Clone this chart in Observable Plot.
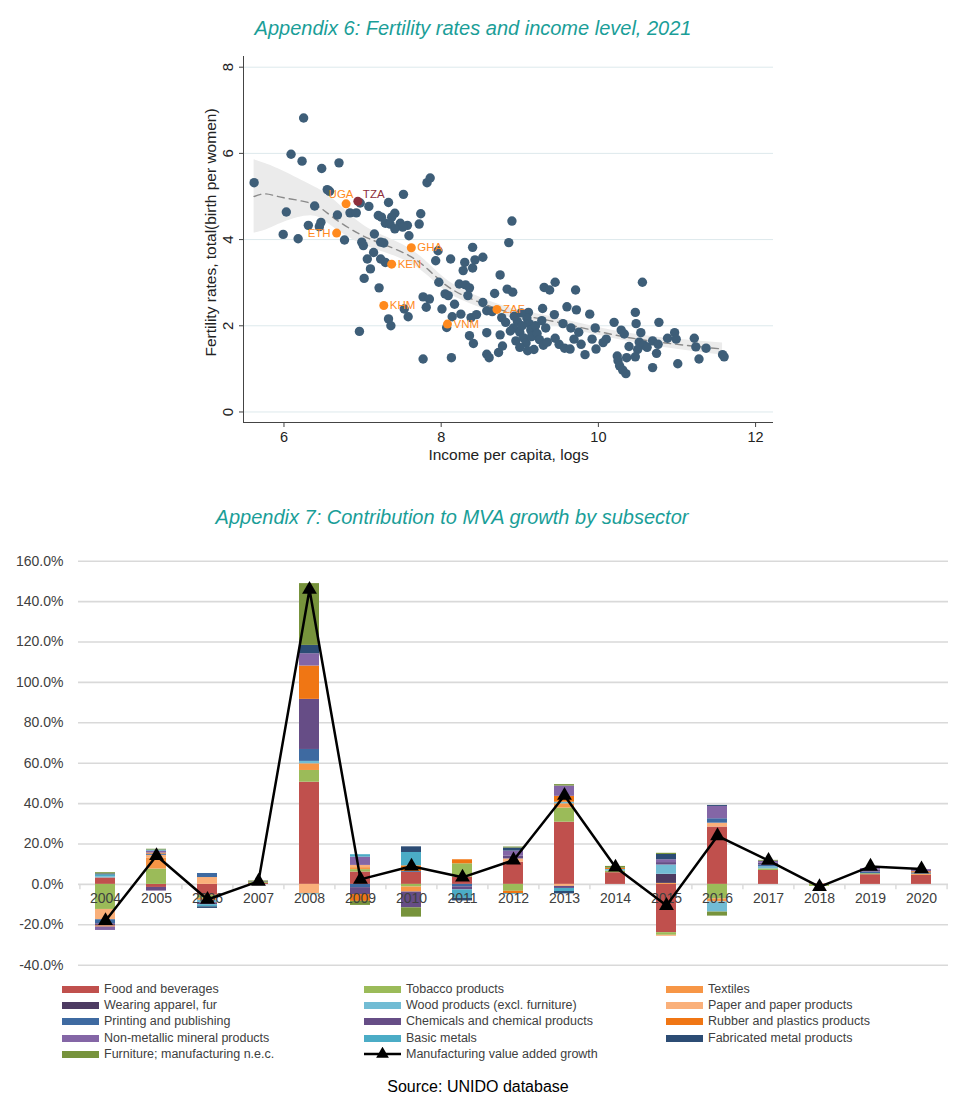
<!DOCTYPE html>
<html><head><meta charset="utf-8">
<script src="https://cdn.jsdelivr.net/npm/d3@7"></script>
<script src="https://cdn.jsdelivr.net/npm/@observablehq/plot@0.6"></script>
<style>
body{margin:0;background:#fff;}
#page{position:relative;width:961px;height:1098px;overflow:hidden;font-family:"Liberation Sans",Arial,sans-serif;background:#fff;}
.title{position:absolute;transform:translateX(-50%);white-space:nowrap;font-style:italic;color:#1a9e98;font-size:20px;line-height:22px;}
#scatter{position:absolute;left:0;top:40px;}
#bars{position:absolute;left:0;top:545px;}
.leg{position:absolute;font-size:12.5px;color:#404040;white-space:nowrap;line-height:14px;font-family:"Liberation Sans Narrow","Arial Narrow","Liberation Sans",sans-serif;}
.sw{position:absolute;width:37px;height:7px;}
#source{position:absolute;top:1078px;left:478px;transform:translateX(-50%);font-size:16px;line-height:18px;color:#000;white-space:nowrap;}
</style></head><body>
<div id="page">
  <div class="title" id="t1" style="left:473px;top:17px;">Appendix 6: Fertility rates and income level, 2021</div>
  <div id="scatter"></div>
  <div class="title" id="t2" style="left:452px;top:506px;">Appendix 7: Contribution to MVA growth by subsector</div>
  <div id="bars"></div>
  <div id="legend"></div>
  <div id="source">Source: UNIDO database</div>
</div>
<script>
// ---------------- Appendix 6 data ----------------
const incomeLog = [
5.62,6.25,6.09,6.23,6.48,6.70,6.03,5.99,6.18,6.31,6.39,6.47,6.45,6.55,6.58,6.68,6.77,6.97,6.84,6.92,
7.08,7.82,7.86,7.52,7.33,7.20,7.24,7.29,7.41,7.37,7.35,7.48,7.57,7.51,7.41,7.74,7.72,7.59,7.15,6.99,
7.01,7.27,7.23,7.14,7.06,7.23,7.29,7.10,7.96,7.93,8.12,8.40,8.30,8.43,8.53,8.28,8.40,7.02,7.21,6.96,
7.33,7.36,7.53,7.58,7.77,8.13,7.97,7.77,7.85,7.81,8.01,8.05,8.09,8.17,8.14,8.25,8.07,8.23,8.31,8.36,
8.34,8.38,8.45,8.36,8.41,8.58,8.53,8.58,8.65,8.68,8.75,8.90,8.86,8.58,8.61,8.73,8.78,8.84,8.91,8.77,
8.82,8.75,9.31,9.29,9.11,9.38,9.45,9.09,9.12,9.17,9.14,9.20,8.92,8.97,9.00,9.03,9.05,8.95,9.08,9.15,
9.22,9.25,9.30,9.35,9.28,9.00,9.18,8.88,8.93,9.02,9.10,9.33,9.60,9.72,9.71,9.89,9.44,9.45,9.50,9.57,
9.64,9.69,9.78,9.83,9.92,9.96,9.97,10.06,10.10,10.20,10.29,10.33,10.24,10.25,10.27,10.31,10.35,10.36,10.39,10.47,
10.48,10.56,10.54,10.52,10.58,10.50,10.62,10.47,10.69,10.76,10.74,10.69,10.77,10.88,10.97,10.99,11.01,11.22,11.24,11.28,
11.37,11.58,11.60,9.55,9.65,9.75];
const fertility = [
5.32,6.82,5.98,5.82,5.65,5.78,4.64,4.12,4.02,4.33,4.78,4.40,4.30,5.16,5.12,4.57,3.99,4.85,4.62,4.62,
4.77,5.32,5.43,5.05,4.86,4.56,4.52,4.38,4.61,4.52,4.36,4.38,4.33,4.29,4.25,4.60,4.36,4.09,4.13,3.94,
3.86,3.92,3.94,3.70,3.55,3.55,3.47,3.32,3.74,3.51,3.55,3.82,3.47,3.53,3.59,3.28,3.34,3.10,2.88,1.87,
2.16,2.00,2.39,2.21,1.23,1.26,3.01,2.67,2.62,2.43,2.39,2.74,2.70,2.50,2.21,2.27,1.96,2.97,2.95,2.88,
2.70,2.19,2.26,1.77,1.59,1.84,2.54,2.35,2.33,2.75,3.18,4.43,3.93,1.34,1.26,1.38,1.53,2.85,2.78,2.19,
2.08,1.79,2.89,2.40,2.31,2.83,3.01,2.18,2.05,1.95,1.90,2.00,1.95,2.10,1.85,2.00,1.72,1.65,1.60,1.75,
1.82,1.68,1.55,1.62,2.12,1.50,1.45,1.88,2.22,2.30,1.42,1.95,2.44,2.37,2.83,2.27,2.26,1.71,1.57,1.48,
1.46,1.69,1.57,1.33,1.69,1.95,1.46,1.61,1.69,2.08,1.90,1.81,1.30,1.19,1.07,0.97,0.89,1.26,1.52,2.31,
2.05,3.01,1.84,1.62,1.55,1.45,1.50,1.28,1.65,1.57,1.36,1.03,2.08,1.71,1.84,1.69,1.12,1.71,1.51,1.23,
1.48,1.33,1.28,2.05,1.95,1.85];
const hlCode = ["UGA","TZA","ETH","GHA","KEN","KHM","VNM","ZAF"];
const hlIncome = [6.79,6.94,6.67,7.62,7.37,7.27,8.08,8.71];
const hlFertility = [4.83,4.89,4.15,3.81,3.43,2.47,2.04,2.38];
const lowessX = [5.62,5.77,6.00,6.36,6.62,6.96,7.25,7.59,7.85,8.10,8.44,8.87,9.38,9.97,10.65,11.58];
const lowessY = [5.00,5.06,4.97,4.83,4.52,4.13,3.90,3.63,3.28,2.89,2.58,2.31,2.12,1.88,1.65,1.46];
const lowessLo = [4.15,4.22,4.40,4.55,4.30,3.92,3.72,3.47,3.13,2.75,2.46,2.20,2.02,1.79,1.55,1.32];
const lowessHi = [5.85,5.76,5.58,5.25,4.95,4.40,4.10,3.80,3.43,3.03,2.70,2.42,2.22,1.97,1.76,1.60];
const scatterXTicks = [6,8,10,12];
const scatterYTicks = [0,2,4,6,8];

// ---------------- Appendix 7 data ----------------
const years = ["2004","2005","2006","2007","2008","2009","2010","2011","2012","2013","2014","2015","2016","2017","2018","2019","2020"];
const food        = [3.2,-1.5,-5.4,0.5,50.6,6.1,6.0,3.6,11.0,30.8,5.8,-23.9,28.4,6.9,0.3,4.8,4.5];
const tobacco     = [-12.4,7.6,-1.5,0.5,5.8,1.2,-1.3,6.6,-3.4,7.0,0.8,-1.3,-7.2,0.8,-1.0,0.5,0];
const textiles    = [0,5.5,-1.0,0,3.3,1.0,-2.5,0,0,2.1,0,0.5,-1.5,0,0,0,0.6];
const wearing     = [0,0,0,0,0,0,0,0,0,0,0,4.5,0,0,0,0,0];
const wood        = [0.6,0,-1.2,0,1.2,0,0,0,0,0.8,0.8,4.6,-5.0,1.0,0,0,0];
const paper       = [-5.1,1.3,3.4,0,-4.7,1.1,0,0,1.6,-1.0,0,-0.5,1.9,0,0,0,0];
const printing    = [-2.0,0.6,2.0,0,5.9,-1.6,0.4,-1.2,0,0,0,0,2.2,0.8,0,0.8,0.6];
const chemicals   = [-1.1,-1.8,-1.0,0.3,24.8,-3.4,-7.8,-1.5,1.5,-1.0,0,1.2,0,1.0,0,1.0,0];
const rubber      = [-0.5,0.5,0,0,16.5,-3.4,2.8,2.0,-1.2,2.9,0.6,0,0,0,0,0,0.6];
const nonmetallic = [-1.7,1.0,0,0,6.1,4.1,0,0,2.4,5.1,0,1.4,6.1,1.0,0,0.7,1.0];
const basicMetals = [0.9,0.5,-1.0,0,-0.4,1.2,6.6,-4.2,-0.4,-1.5,0,0,0,0,0,0,0];
const fabricated  = [0.5,0,-0.8,0,4.1,0,2.8,-1.3,1.5,-1.2,0,2.6,0.5,0,0,0,0];
const furniture   = [0.6,0.4,0,0.4,30.6,-2.0,-4.6,0,0.5,0.7,0.9,0.6,-2.0,0.4,0,0,0];
const mvaGrowth   = [-18.0,14.2,-7.5,1.5,146.0,2.5,9.0,3.5,12.0,44.0,8.5,-10.5,24.0,11.8,-1.2,8.9,7.6];
const sectors = ["Food and beverages","Tobacco products","Textiles","Wearing apparel, fur","Wood products (excl. furniture)","Paper and paper products","Printing and publishing","Chemicals and chemical products","Rubber and plastics products","Non-metallic mineral products","Basic metals","Fabricated metal products","Furniture; manufacturing n.e.c."];
const sectorColors = ["#c0504d","#9bbb59","#f79646","#4d3b62","#72bcd4","#fab07a","#3e6aa1","#664d86","#f07614","#8466a6","#4bacc6","#2c4c74","#77933c"];
const lineLabel = "Manufacturing value added growth";
const barYTicks = [-40,-20,0,20,40,60,80,100,120,140,160];

// ---------------- Chart 1 ----------------
const points = incomeLog.map((x,i)=>({x, y: fertility[i]}));
const hl = hlCode.map((c,i)=>({code:c, x: hlIncome[i], y: hlFertility[i]}));
const lowess = lowessX.map((x,i)=>({x, y: lowessY[i], lo: lowessLo[i], hi: lowessHi[i]}));
const xDom = [5.485, 12.228], yDom = [-0.244, 8.248];
const orange = "#ff8a1e", tzaColor = "#8e2f3c";
const scatter = Plot.plot({
  width: 961, height: 440, marginLeft: 243, marginRight: 188, marginTop: 16, marginBottom: 58,
  x: {domain: xDom}, y: {domain: yDom},
  style: {fontFamily: "'Liberation Sans', Arial, sans-serif", background: "transparent", overflow: "visible"},
  marks: [
    Plot.gridY(scatterYTicks, {stroke: "#dde9ec", strokeOpacity: 1, strokeWidth: 1}),
    Plot.areaY(lowess, {x: "x", y1: "lo", y2: "hi", fill: "#ebebeb", curve: "natural"}),
    Plot.line(lowess, {x: "x", y: "y", stroke: "#8a8a8a", strokeWidth: 1.4, strokeDasharray: "7,5", curve: "natural"}),
    Plot.dot(points, {x: "x", y: "y", r: 4.7, fill: "#3e5e78", stroke: "none"}),
    Plot.dot(hl.filter(d=>d.code!=="TZA"), {x: "x", y: "y", r: 4.5, fill: orange}),
    Plot.dot(hl.filter(d=>d.code==="TZA"), {x: "x", y: "y", r: 4.5, fill: tzaColor}),
    Plot.text(hl.filter(d=>!["ETH","UGA","TZA"].includes(d.code)), {x: "x", y: "y", text: "code", textAnchor: "start", dx: 6, fill: orange, fontSize: 11.5}),
    Plot.text(hl.filter(d=>d.code==="ETH"), {x: "x", y: "y", text: "code", textAnchor: "end", dx: -6, fill: orange, fontSize: 11.5}),
    Plot.text(hl.filter(d=>d.code==="UGA"), {x: "x", y: "y", text: "code", textAnchor: "middle", dx: -5, dy: -10, fill: orange, fontSize: 11.5}),
    Plot.text(hl.filter(d=>d.code==="TZA"), {x: "x", y: "y", text: "code", textAnchor: "start", dx: 5, dy: -7, fill: tzaColor, fontSize: 11.5}),
    Plot.ruleX([xDom[0]], {stroke: "#444", strokeWidth: 1}),
    Plot.ruleY([yDom[0]], {stroke: "#444", strokeWidth: 1}),
    Plot.axisX(scatterXTicks, {tickSize: 5, tickPadding: 4, fontSize: 14.5, label: null, stroke: "#444", fill: "#222"}),
    Plot.axisY(scatterYTicks, {tickSize: 4, tickFormat: () => "", label: null, stroke: "#444"}),
    Plot.text(scatterYTicks, {x: xDom[0], y: d => d, text: d => String(d), rotate: -90, dx: -15, fontSize: 15, fill: "#222", lineAnchor: "middle"}),
    Plot.text(["Fertility rates, total(birth per women)"], {frameAnchor: "left", textAnchor: "middle", text: d => d, rotate: -90, dx: -32, dy: -7, fontSize: 15.5, fill: "#222"}),
    Plot.text(["Income per capita, logs"], {frameAnchor: "bottom", textAnchor: "middle", text: d => d, dy: 37, fontSize: 15.5, fill: "#222"})
  ]
});
document.getElementById("scatter").appendChild(scatter);

// ---------------- Chart 2 ----------------
const seriesVals = [food,tobacco,textiles,wearing,wood,paper,printing,chemicals,rubber,nonmetallic,basicMetals,fabricated,furniture];
const barData = sectors.flatMap((s,si)=>years.map((yr,i)=>({year: yr, sector: s, value: seriesVals[si][i]})));
const mvaData = years.map((yr,i)=>({year: yr, value: mvaGrowth[i]}));
const bw = 961, bml = 78, bmr = 13;
const step = (bw - bml - bmr) / years.length;
const pct = d => d.toFixed(1) + "%";
const bars = Plot.plot({
  width: bw, height: 440, marginLeft: bml, marginRight: bmr, marginTop: 15.7, marginBottom: 20.3,
  x: {domain: years, paddingInner: 0.6, paddingOuter: 0.3, axis: null},
  y: {domain: [-40, 160], axis: null},
  color: {domain: sectors, range: sectorColors},
  style: {fontFamily: "'Liberation Sans', Arial, sans-serif", background: "transparent", overflow: "visible"},
  marks: [
    Plot.gridY(barYTicks, {stroke: "#d9d9d9", strokeOpacity: 1, strokeWidth: 1.6}),
    Plot.axisY(barYTicks, {tickSize: 0, tickPadding: 15, tickFormat: pct, fontSize: 14, fill: "#404040", label: null}),
    Plot.ruleX(years, {x: d => d, y1: 0, y2: -2.6, dx: -step/2, stroke: "#d9d9d9", strokeWidth: 1.4}),
    Plot.ruleX([years[years.length-1]], {x: d => d, y1: 0, y2: -2.6, dx: step/2, stroke: "#d9d9d9", strokeWidth: 1.4}),
    Plot.barY(barData, {x: "year", y: "value", fill: "sector"}),
    Plot.text(years, {x: d => d, y: 0, dy: 14, text: d => d, fontSize: 14, fill: "#404040"}),
    Plot.line(mvaData, {x: "year", y: "value", stroke: "#000", strokeWidth: 2.5}),
    Plot.dot(mvaData, {x: "year", y: "value", symbol: "triangle", r: 5.5, fill: "#000", stroke: "none"})
  ]
});
document.getElementById("bars").appendChild(bars);

// ---------------- Legend ----------------
const legend = document.getElementById("legend");
const colX = [62, 364, 666], rowY = [989, 1005, 1021, 1038, 1054];
const items = sectors.map((s,i)=>({label: s, color: sectorColors[i]})).concat([{label: lineLabel, line: true}]);
items.forEach((it,i)=>{
  const c = i % 3, r = Math.floor(i / 3);
  const x = colX[c], y = rowY[r];
  if (it.line) {
    const svg = d3.create("svg").attr("width", 40).attr("height", 14)
      .style("position","absolute").style("left",(x-1)+"px").style("top",(y-7)+"px");
    svg.append("line").attr("x1",1).attr("x2",38).attr("y1",7).attr("y2",7).attr("stroke","#000").attr("stroke-width",2.5);
    svg.append("path").attr("d", d3.symbol(d3.symbolTriangle, 70)()).attr("transform","translate(19.5,7)").attr("fill","#000");
    legend.appendChild(svg.node());
  } else {
    const sw = document.createElement("div");
    sw.className = "sw"; sw.style.left = x + "px"; sw.style.top = (y - 3.5) + "px"; sw.style.background = it.color;
    legend.appendChild(sw);
  }
  const t = document.createElement("div");
  t.className = "leg"; t.textContent = it.label;
  t.style.left = (x + 42) + "px"; t.style.top = (y - 7.5) + "px";
  legend.appendChild(t);
});
</script>
</body></html>
